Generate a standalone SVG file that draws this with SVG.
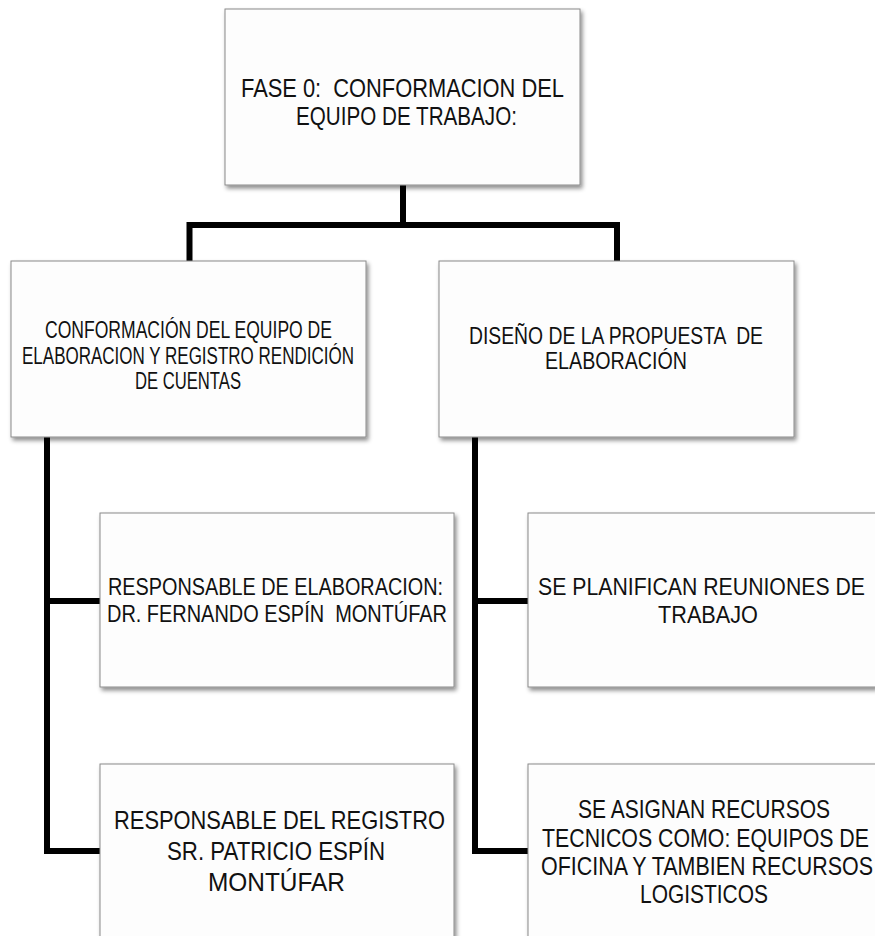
<svg xmlns="http://www.w3.org/2000/svg" width="875" height="936" viewBox="0 0 875 936">
<defs>
<filter id="sh" x="-10%" y="-10%" width="130%" height="130%">
<feDropShadow dx="2" dy="3" stdDeviation="2" flood-color="#000" flood-opacity="0.45"/>
</filter>
<style>
.box{fill:#fdfdfd;stroke:#8a8a8a;stroke-width:1;filter:url(#sh)}
.t{font-family:"Liberation Sans",Arial,sans-serif;fill:#111;text-anchor:middle}
.c{fill:none;stroke:#000;stroke-width:6;stroke-linejoin:miter;stroke-linecap:butt}
</style>
</defs>
<rect width="875" height="936" fill="#fff"/>
<g id="connectors">
<path class="c" d="M403 185 V225 M189.5 261 V225 H617 V261"/>
<path class="c" d="M47 437 V851 H100 M47 601 H100"/>
<path class="c" d="M475 437 V851 H528 M475 601 H528"/>
</g>
<g id="n0">
<rect class="box" x="225" y="9" width="355" height="176"/>
<text class="t" font-size="21.5" transform="scale(1,1.1628)" xml:space="preserve"><tspan x="402.5" y="83.42" textLength="323" lengthAdjust="spacingAndGlyphs">FASE 0:  CONFORMACION DEL</tspan><tspan x="406.5" y="107.5" textLength="221" lengthAdjust="spacingAndGlyphs">EQUIPO DE TRABAJO:</tspan></text>
</g>
<g id="n1">
<rect class="box" x="11" y="261" width="355" height="176"/>
<text class="t" font-size="19.78" transform="scale(1,1.1628)"><tspan x="188.5" y="290.68" textLength="287" lengthAdjust="spacingAndGlyphs">CONFORMACIÓN DEL EQUIPO DE</tspan><tspan x="188" y="313.04" textLength="332" lengthAdjust="spacingAndGlyphs">ELABORACION Y REGISTRO RENDICIÓN</tspan><tspan x="188" y="334.54" textLength="106" lengthAdjust="spacingAndGlyphs">DE CUENTAS</tspan></text>
</g>
<g id="n2">
<rect class="box" x="439" y="261" width="355" height="176"/>
<text class="t" font-size="20.64" transform="scale(1,1.1628)" xml:space="preserve"><tspan x="616" y="295.84" textLength="294" lengthAdjust="spacingAndGlyphs">DISEÑO DE LA PROPUESTA  DE</tspan><tspan x="616" y="317.34" textLength="142" lengthAdjust="spacingAndGlyphs">ELABORACIÓN</tspan></text>
</g>
<g id="n3">
<rect class="box" x="100" y="513" width="354" height="174"/>
<text class="t" font-size="19.78" transform="scale(1,1.1628)" xml:space="preserve"><tspan x="275.5" y="511.7" textLength="335" lengthAdjust="spacingAndGlyphs">RESPONSABLE DE ELABORACION:</tspan><tspan x="277" y="534.92" textLength="340" lengthAdjust="spacingAndGlyphs">DR. FERNANDO ESPÍN  MONTÚFAR</tspan></text>
</g>
<g id="n4">
<rect class="box" x="528" y="513" width="348" height="174"/>
<text class="t" font-size="20.64" transform="scale(1,1.1628)"><tspan x="701.5" y="511.7" textLength="327" lengthAdjust="spacingAndGlyphs">SE PLANIFICAN REUNIONES DE</tspan><tspan x="708" y="535.78" textLength="100" lengthAdjust="spacingAndGlyphs">TRABAJO</tspan></text>
</g>
<g id="n5">
<rect class="box" x="100" y="764" width="354" height="173"/>
<text class="t" font-size="22.36" transform="scale(1,1.1628)"><tspan x="279.5" y="712.94" textLength="331" lengthAdjust="spacingAndGlyphs">RESPONSABLE DEL REGISTRO</tspan><tspan x="276" y="739.6" textLength="218" lengthAdjust="spacingAndGlyphs">SR. PATRICIO ESPÍN</tspan><tspan x="276.5" y="766.26" textLength="137" lengthAdjust="spacingAndGlyphs">MONTÚFAR</tspan></text>
</g>
<g id="n6">
<rect class="box" x="528" y="764" width="348" height="173"/>
<text class="t" font-size="20.8" transform="scale(1,1.25)"><tspan x="704" y="654.4" textLength="252" lengthAdjust="spacingAndGlyphs">SE ASIGNAN RECURSOS</tspan><tspan x="705.5" y="677.6" textLength="327" lengthAdjust="spacingAndGlyphs">TECNICOS COMO: EQUIPOS DE</tspan><tspan x="707" y="700" textLength="332" lengthAdjust="spacingAndGlyphs">OFICINA Y TAMBIEN RECURSOS</tspan><tspan x="704" y="722.4" textLength="128" lengthAdjust="spacingAndGlyphs">LOGISTICOS</tspan></text>
</g>
</svg>
